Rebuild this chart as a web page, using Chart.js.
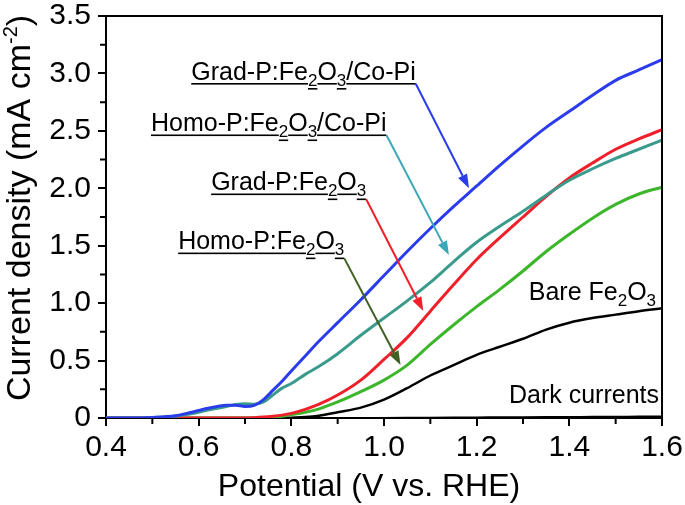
<!DOCTYPE html>
<html><head><meta charset="utf-8">
<script src="https://cdn.jsdelivr.net/npm/chart.js@4"></script>
<style>html,body{margin:0;padding:0;background:#fff}#wrap{width:685px;height:505px}</style>
</head><body><div id="wrap"><canvas id="c" width="685" height="505"></canvas></div>
<script>
// ---------- data ----------
const potential   = [0.40,0.45,0.50,0.55,0.58,0.60,0.62,0.64,0.66,0.68,0.70,0.72,0.74,0.76,0.78,0.80,0.83,0.86,0.90,0.95,1.00,1.05,1.10,1.15,1.20,1.25,1.30,1.35,1.40,1.45,1.50,1.55,1.60];
const gradPCoPi   = [0,0,0.005,0.02,0.045,0.065,0.085,0.10,0.112,0.112,0.10,0.11,0.16,0.24,0.32,0.41,0.54,0.67,0.83,1.03,1.24,1.45,1.65,1.84,2.02,2.20,2.37,2.53,2.67,2.81,2.94,3.03,3.12];
const homoPCoPi   = [0,0,0.003,0.015,0.035,0.05,0.07,0.085,0.10,0.118,0.125,0.12,0.14,0.20,0.26,0.30,0.38,0.45,0.56,0.72,0.87,1.02,1.18,1.36,1.53,1.67,1.80,1.94,2.07,2.17,2.26,2.34,2.42];
const gradP       = [0,0,0,0,0,0,0,0,0,0,0,0.003,0.008,0.015,0.025,0.04,0.075,0.12,0.20,0.33,0.51,0.70,0.93,1.16,1.38,1.57,1.75,1.93,2.09,2.22,2.34,2.43,2.51];
const homoP       = [0,0,0,0,0,0,0,0,0,0,0,0,0.003,0.008,0.015,0.03,0.05,0.08,0.14,0.23,0.33,0.46,0.64,0.81,0.97,1.12,1.28,1.45,1.60,1.74,1.86,1.95,2.01];
const bareFe2O3   = [0,0,0,0,0,0,0,0,0,0,0,0,0,0,0,0.003,0.008,0.02,0.05,0.09,0.16,0.26,0.37,0.46,0.55,0.62,0.69,0.77,0.83,0.87,0.90,0.93,0.955];
const darkCurrent = [0,0,0,0,0,0,0,0,0,0,0,0,0,0,0,0,0,0,0,0,0.001,0.002,0.003,0.004,0.005,0.006,0.007,0.008,0.009,0.010,0.011,0.012,0.013];
const xTicks = [0.4,0.6,0.8,1.0,1.2,1.4,1.6];
const xTickLabels = ['0.4','0.6','0.8','1.0','1.2','1.4','1.6'];
const xMinor = [0.5,0.7,0.9,1.1,1.3,1.5];
const yTicks = [0,0.5,1.0,1.5,2.0,2.5,3.0,3.5];
const yTickLabels = ['0','0.5','1.0','1.5','2.0','2.5','3.0','3.5'];
const yMinor = [0.25,0.75,1.25,1.75,2.25,2.75,3.25];
const xTitle = 'Potential (V vs. RHE)';
const yTitleRuns = [{t:'Current density (mA cm'},{t:'-2',sup:true},{t:')'}];

// ---------- styling ----------
const FONT = "'Liberation Sans', Arial, Helvetica, sans-serif";
const C = {blue:'#2b3cec', teal:'#3a9a8b', red:'#f0202b', green:'#3cb62a', black:'#000000',
           tealArrow:'#3aa8b6', olive:'#3f6121'};

const pts = arr => potential.map((x,i)=>({x, y:arr[i]}));
const ds = (label, arr, color, w) => ({label, data: pts(arr), borderColor: color, borderWidth: w,
  pointRadius: 0, fill: false, cubicInterpolationMode: 'monotone'});

// annotations (positions in data units)
const annotations = [
  {runs:[{t:'Grad-P:Fe'},{t:'2',sub:true},{t:'O'},{t:'3',sub:true},{t:'/Co-Pi'}], x:0.584, y:2.947, tip:[1.1834,2.0], color:C.blue},
  {runs:[{t:'Homo-P:Fe'},{t:'2',sub:true},{t:'O'},{t:'3',sub:true},{t:'/Co-Pi'}], x:0.497, y:2.499, tip:[1.1401,1.419], color:C.tealArrow},
  {runs:[{t:'Grad-P:Fe'},{t:'2',sub:true},{t:'O'},{t:'3',sub:true}], x:0.627, y:1.985, tip:[1.0848,0.932], color:C.red},
  {runs:[{t:'Homo-P:Fe'},{t:'2',sub:true},{t:'O'},{t:'3',sub:true}], x:0.5557, y:1.471, tip:[1.0357,0.461], color:C.olive},
];
const plainLabels = [
  {runs:[{t:'Bare Fe'},{t:'2',sub:true},{t:'O'},{t:'3',sub:true}], x:1.3124, y:1.03, align:'left'},
  {runs:[{t:'Dark currents'}], x:1.5935, y:0.13, align:'right'},
];

const MAIN = 25, SUB = 17, SUBDY = 6;

function runsWidth(ctx, runs){
  let w=0; for(const r of runs){ ctx.font = `${r.sub?SUB:MAIN}px ${FONT}`; w+=ctx.measureText(r.t).width; } return w;
}
function drawRuns(ctx, runs, x, y, underline){
  let cx = x, end = null;
  for(const r of runs){
    ctx.font = `${r.sub?SUB:MAIN}px ${FONT}`;
    const by = r.sub ? y + SUBDY : y;
    ctx.fillText(r.t, cx, by);
    const w = ctx.measureText(r.t).width;
    const uy = by + (r.sub ? 2.5 : 3.5);
    if(underline) ctx.fillRect(cx, uy, w, 1.6);
    cx += w;
    end = {x: cx, y: uy + 0.8};
  }
  return end;
}
function arrow(ctx, x0, y0, x1, y1, color){
  const ang = Math.atan2(y1-y0, x1-x0), L = 14, H = 5;
  const bx = x1 - L*Math.cos(ang), by = y1 - L*Math.sin(ang);
  ctx.strokeStyle = color; ctx.fillStyle = color; ctx.lineWidth = 2;
  ctx.beginPath(); ctx.moveTo(x0,y0); ctx.lineTo(bx,by); ctx.stroke();
  ctx.beginPath(); ctx.moveTo(x1,y1);
  ctx.lineTo(bx + H*Math.sin(ang), by - H*Math.cos(ang));
  ctx.lineTo(bx - H*Math.sin(ang), by + H*Math.cos(ang));
  ctx.closePath(); ctx.fill();
}

const decor = {
  id:'decor',
  afterDraw(chart){
    const ctx = chart.ctx, a = chart.chartArea, xs = chart.scales.x, ys = chart.scales.y;
    ctx.save();
    // frame top/right
    ctx.strokeStyle = '#000'; ctx.lineWidth = 2;
    ctx.beginPath(); ctx.moveTo(a.left-1, a.top); ctx.lineTo(a.right, a.top); ctx.lineTo(a.right, a.bottom); ctx.stroke();
    // minor ticks
    ctx.beginPath();
    for(const v of xMinor){ const p = xs.getPixelForValue(v); ctx.moveTo(p, a.bottom); ctx.lineTo(p, a.bottom+6); }
    for(const v of yMinor){ const p = ys.getPixelForValue(v); ctx.moveTo(a.left, p); ctx.lineTo(a.left-6, p); }
    ctx.stroke();
    // x title
    ctx.fillStyle = '#000'; ctx.textBaseline = 'alphabetic';
    ctx.font = `32px ${FONT}`; ctx.textAlign = 'center';
    ctx.fillText(xTitle, 369, 496);
    // y title (rotated, with superscript)
    ctx.save();
    ctx.translate(30, 208); ctx.rotate(-Math.PI/2); ctx.textAlign = 'left';
    let tw = 0;
    for(const r of yTitleRuns){ ctx.font = `${r.sup?20:34}px ${FONT}`; tw += ctx.measureText(r.t).width; }
    let cx = -tw/2;
    for(const r of yTitleRuns){ ctx.font = `${r.sup?20:34}px ${FONT}`; ctx.fillText(r.t, cx, r.sup ? -13 : 0); cx += ctx.measureText(r.t).width; }
    ctx.restore();
    // annotations
    ctx.textAlign = 'left';
    for(const an of annotations){
      const x = xs.getPixelForValue(an.x), y = ys.getPixelForValue(an.y);
      ctx.fillStyle = '#000';
      const e = drawRuns(ctx, an.runs, x, y, true);
      arrow(ctx, e.x, e.y, xs.getPixelForValue(an.tip[0]), ys.getPixelForValue(an.tip[1]), an.color);
    }
    ctx.fillStyle = '#000';
    for(const lb of plainLabels){
      let x = xs.getPixelForValue(lb.x); const y = ys.getPixelForValue(lb.y);
      if(lb.align === 'right') x -= runsWidth(ctx, lb.runs);
      drawRuns(ctx, lb.runs, x, y, false);
    }
    ctx.restore();
  }
};

const tickFont = {family: FONT, size: 30, lineHeight: 1.2};
new Chart(document.getElementById('c'), {
  type: 'line',
  data: { datasets: [
    ds('Grad-P:Fe2O3/Co-Pi', gradPCoPi, C.blue, 3),
    ds('Homo-P:Fe2O3/Co-Pi', homoPCoPi, C.teal, 3),
    ds('Grad-P:Fe2O3', gradP, C.red, 3),
    ds('Homo-P:Fe2O3', homoP, C.green, 3),
    ds('Bare Fe2O3', bareFe2O3, C.black, 2.5),
    ds('Dark currents', darkCurrent, C.black, 2),
  ]},
  options: {
    responsive: false, animation: false, devicePixelRatio: 1,
    layout: { padding: {top: 16, right: 23, left: 0, bottom: 0} },
    plugins: { legend: {display: false}, tooltip: {enabled: false} },
    scales: {
      x: { type: 'linear', min: 0.4, max: 1.6,
        afterBuildTicks: s => { s.ticks = xTicks.map(v => ({value: v})); },
        afterFit: s => { s.height = 87; s.paddingLeft = 0; s.paddingRight = 0; },
        ticks: { font: tickFont, color: '#000', padding: 4, maxRotation: 0, autoSkip: false,
          callback: v => { const i = xTicks.findIndex(t => Math.abs(t - v) < 1e-9); return i >= 0 ? xTickLabels[i] : ''; } },
        grid: { drawOnChartArea: false, drawTicks: true, tickLength: 8, color: '#000', lineWidth: 2 },
        border: { display: true, color: '#000', width: 2 } },
      y: { min: 0, max: 3.5,
        afterBuildTicks: s => { s.ticks = yTicks.map(v => ({value: v})); },
        afterFit: s => { s.width = 106; s.paddingTop = 0; s.paddingBottom = 0; },
        ticks: { font: tickFont, color: '#000', padding: 7, autoSkip: false,
          callback: v => { const i = yTicks.findIndex(t => Math.abs(t - v) < 1e-9); return i >= 0 ? yTickLabels[i] : ''; } },
        grid: { drawOnChartArea: false, drawTicks: true, tickLength: 8, color: '#000', lineWidth: 2 },
        border: { display: true, color: '#000', width: 2 } }
    }
  },
  plugins: [decor]
});
</script></body></html>
